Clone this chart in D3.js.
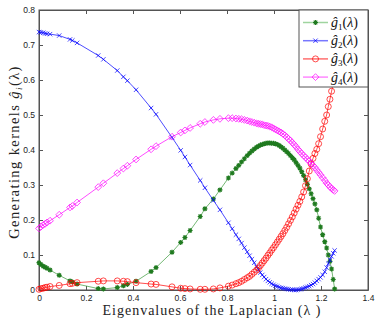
<!DOCTYPE html>
<head>
    <title>Generating kernels vs Laplacian eigenvalues</title>
</head>
<meta charset="utf-8">
<script src="https://d3js.org/d3.v7.min.js"></script>
<style>
  body { margin: 0; background: #fff; }
</style>
<body>
<div id="my_dataviz"></div>
<script>

// eigenvalues (x positions of the markers), shared by all four kernels
var lambdas = [0, 0.008, 0.018, 0.026, 0.034, 0.047, 0.086, 0.132, 0.142, 0.162,
  0.252, 0.274, 0.333, 0.359, 0.376, 0.413, 0.477, 0.498, 0.566, 0.603,
  0.621, 0.643, 0.686, 0.706, 0.742, 0.770, 0.806, 0.822, 0.838, 0.850,
  0.862, 0.874, 0.886, 0.896, 0.906, 0.916, 0.926, 0.934, 0.942, 0.950,
  0.958, 0.966, 0.974, 0.982, 0.990, 0.998, 1.006, 1.014, 1.022, 1.030,
  1.038, 1.046, 1.054, 1.062, 1.070, 1.078, 1.086, 1.094, 1.102, 1.110,
  1.118, 1.126, 1.134, 1.142, 1.150, 1.158, 1.166, 1.174, 1.182, 1.190,
  1.198, 1.207, 1.216, 1.224, 1.231, 1.238, 1.245, 1.252, 1.258]

var g1 = [0.078, 0.073, 0.068, 0.065, 0.062, 0.057, 0.042, 0.026, 0.023, 0.017,
  0.004, 0.003, 0.007, 0.012, 0.016, 0.025, 0.053, 0.064, 0.108, 0.136,
  0.150, 0.170, 0.210, 0.232, 0.260, 0.286, 0.320, 0.334, 0.347, 0.356,
  0.366, 0.375, 0.384, 0.391, 0.397, 0.403, 0.408, 0.411, 0.414, 0.416,
  0.418, 0.419, 0.420, 0.420, 0.419, 0.419, 0.418, 0.416, 0.413, 0.409,
  0.405, 0.400, 0.395, 0.390, 0.384, 0.378, 0.372, 0.364, 0.356, 0.348,
  0.338, 0.327, 0.315, 0.302, 0.289, 0.275, 0.261, 0.246, 0.229, 0.205,
  0.180, 0.158, 0.138, 0.120, 0.100, 0.082, 0.060, 0.030, 0.003]

var g2 = [0.737, 0.736, 0.735, 0.733, 0.732, 0.731, 0.727, 0.716, 0.713, 0.706,
  0.670, 0.659, 0.627, 0.609, 0.598, 0.572, 0.520, 0.502, 0.436, 0.399,
  0.380, 0.357, 0.313, 0.292, 0.256, 0.229, 0.192, 0.175, 0.158, 0.146,
  0.134, 0.121, 0.109, 0.098, 0.088, 0.078, 0.066, 0.058, 0.050, 0.043,
  0.037, 0.031, 0.026, 0.022, 0.018, 0.015, 0.012, 0.010, 0.008, 0.006,
  0.005, 0.004, 0.003, 0.002, 0.001, 0.001, 0.000, 0.000, 0.001, 0.002,
  0.003, 0.005, 0.007, 0.009, 0.011, 0.014, 0.017, 0.021, 0.026, 0.031,
  0.036, 0.043, 0.052, 0.064, 0.075, 0.086, 0.096, 0.105, 0.113]

var g3 = [0.002, 0.004, 0.005, 0.007, 0.008, 0.010, 0.013, 0.018, 0.019, 0.021,
  0.025, 0.026, 0.026, 0.025, 0.024, 0.021, 0.017, 0.016, 0.009, 0.005,
  0.004, 0.003, 0.002, 0.002, 0.003, 0.006, 0.011, 0.014, 0.018, 0.021,
  0.025, 0.030, 0.035, 0.039, 0.045, 0.051, 0.057, 0.063, 0.070, 0.077,
  0.084, 0.091, 0.099, 0.106, 0.114, 0.121, 0.129, 0.137, 0.145, 0.153,
  0.161, 0.170, 0.179, 0.189, 0.199, 0.209, 0.220, 0.231, 0.242, 0.253,
  0.266, 0.280, 0.298, 0.318, 0.340, 0.360, 0.376, 0.390, 0.402, 0.418,
  0.438, 0.460, 0.482, 0.500, 0.524, 0.545, 0.568, 0.590, 0.610]

var g4 = [0.176, 0.181, 0.186, 0.189, 0.193, 0.198, 0.215, 0.236, 0.240, 0.250,
  0.294, 0.305, 0.334, 0.347, 0.355, 0.373, 0.402, 0.411, 0.438, 0.450,
  0.456, 0.463, 0.475, 0.480, 0.486, 0.489, 0.491, 0.491, 0.490, 0.489,
  0.488, 0.486, 0.484, 0.482, 0.480, 0.478, 0.476, 0.475, 0.474, 0.473,
  0.471, 0.470, 0.469, 0.467, 0.465, 0.462, 0.459, 0.456, 0.453, 0.450,
  0.446, 0.442, 0.437, 0.432, 0.427, 0.421, 0.415, 0.409, 0.402, 0.396,
  0.390, 0.384, 0.379, 0.373, 0.368, 0.362, 0.356, 0.350, 0.343, 0.336,
  0.329, 0.321, 0.313, 0.305, 0.300, 0.295, 0.290, 0.286, 0.283]

var seriesNames = ["1", "2", "3", "4"]
var xTicks = [0, 0.2, 0.4, 0.6, 0.8, 1, 1.2, 1.4]
var xTickLabels = ["0", "0.2", "0.4", "0.6", "0.8", "1", "1.2", "1.4"]
var yTicks = [0, 0.1, 0.2, 0.3, 0.4, 0.5, 0.6, 0.7, 0.8]
var yTickLabels = ["0", "0.1", "0.2", "0.3", "0.4", "0.5", "0.6", "0.7", "0.8"]

var margin = {top: 10, right: 14, bottom: 35, left: 39},
    width = 382 - margin.left - margin.right,
    height = 325 - margin.top - margin.bottom;

var svg = d3.select("#my_dataviz")
  .append("svg")
    .attr("width", 382)
    .attr("height", 325)
  .append("g")
    .attr("transform", "translate(" + margin.left + "," + margin.top + ")");

var x = d3.scaleLinear().domain([0, 1.4]).range([0, width])
var y = d3.scaleLinear().domain([0, 0.8]).range([height, 0])

var series = [
  {name: seriesNames[0], values: g1, line: "#3a9a3a", mark: "#1f7a1f", legendLine: "#9fd49f", shape: "star"},
  {name: seriesNames[1], values: g2, line: "#0000ff", mark: "#0000ff", legendLine: "#7777ff", shape: "x"},
  {name: seriesNames[2], values: g3, line: "#ff0000", mark: "#ff0000", legendLine: "#ff7070", shape: "circle"},
  {name: seriesNames[3], values: g4, line: "#ff00ff", mark: "#ff00ff", legendLine: "#ff88ff", shape: "diamond"}
]

function markerPath(shape) {
  if (shape == "star") return "M-2.5,0H2.5M0,-2.5V2.5M-1.8,-1.8L1.8,1.8M-1.8,1.8L1.8,-1.8"
  if (shape == "x") return "M-2.2,-2.2L2.2,2.2M-2.2,2.2L2.2,-2.2"
  if (shape == "circle") return "M3,0A3,3 0 1,1 -3,0A3,3 0 1,1 3,0Z"
  return "M0,-3.4L3.4,0L0,3.4L-3.4,0Z"
}

// axes: ticks point inward on all four sides (matlab box)
var axisColor = "#555"
var xAxis = svg.append("g")
  .attr("transform", "translate(0," + height + ")")
  .call(d3.axisBottom(x).tickValues(xTicks).tickSize(-4).tickSizeOuter(0).tickPadding(5)
        .tickFormat(function(d, i) { return xTickLabels[i] }))
svg.append("g")
  .call(d3.axisTop(x).tickValues(xTicks).tickSize(-4).tickSizeOuter(0).tickFormat(""))
var yAxis = svg.append("g")
  .call(d3.axisLeft(y).tickValues(yTicks).tickSize(-4).tickSizeOuter(0).tickPadding(4)
        .tickFormat(function(d, i) { return yTickLabels[i] }))
svg.append("g")
  .attr("transform", "translate(" + width + ",0)")
  .call(d3.axisRight(y).tickValues(yTicks).tickSize(-4).tickSizeOuter(0).tickFormat(""))

svg.selectAll(".domain").attr("stroke", axisColor)
svg.selectAll(".tick line").attr("stroke", axisColor)
svg.selectAll(".tick text")
  .style("font-family", "'Liberation Sans', Arial, sans-serif")
  .style("font-size", "8.5px")
  .attr("fill", "#222")

svg.append("rect")
  .attr("width", width).attr("height", height)
  .attr("fill", "none").attr("stroke", axisColor).attr("stroke-width", 1)

var line = d3.line()
  .x(function(d) { return x(d[0]) })
  .y(function(d) { return y(d[1]) })

series.forEach(function(s) {
  var pts = lambdas.map(function(l, i) { return [l, s.values[i]] })
  svg.append("path")
    .datum(pts)
    .attr("d", line)
    .attr("fill", "none")
    .attr("stroke", s.line)
    .attr("stroke-width", 0.7)
  svg.selectAll(null)
    .data(pts)
    .enter()
    .append("path")
      .attr("transform", function(d) { return "translate(" + x(d[0]) + "," + y(d[1]) + ")" })
      .attr("d", markerPath(s.shape))
      .attr("fill", "none")
      .attr("stroke", s.mark)
      .attr("stroke-width", s.shape == "star" ? 1.2 : 0.7)
})

// legend in the top right corner
var lg = svg.append("g").attr("transform", "translate(" + (width - 69) + ",0)")
lg.append("rect")
  .attr("width", 69).attr("height", 77)
  .attr("fill", "#fff").attr("stroke", axisColor).attr("stroke-width", 1)
series.forEach(function(s, i) {
  var ry = 12.5 + i * 18.2
  lg.append("line")
    .attr("x1", 4).attr("x2", 29).attr("y1", ry).attr("y2", ry)
    .attr("stroke", s.legendLine).attr("stroke-width", 1.5)
  lg.append("path")
    .attr("transform", "translate(16.5," + ry + ")")
    .attr("d", markerPath(s.shape))
    .attr("fill", "none").attr("stroke", s.mark)
    .attr("stroke-width", s.shape == "star" ? 1.2 : 0.7)
  var t = lg.append("text")
    .attr("x", 32).attr("y", ry + 4.5)
    .style("font-family", "'Liberation Serif', 'DejaVu Serif', serif")
    .style("font-size", "14px")
    .attr("fill", "#111")
  t.append("tspan").style("font-style", "italic").text("\u011D")
  t.append("tspan").attr("dy", 3).style("font-size", "9px").text(s.name)
  t.append("tspan").attr("dy", -3).text("(")
  t.append("tspan").style("font-style", "italic").text("\u03BB")
  t.append("tspan").text(")")
})

// axis titles
svg.append("text")
  .attr("x", width / 2 + 8).attr("y", height + 25)
  .attr("text-anchor", "middle")
  .attr("textLength", 218).attr("lengthAdjust", "spacing")
  .style("font-family", "'Liberation Serif', 'DejaVu Serif', serif")
  .style("font-size", "14px")
  .attr("fill", "#222")
  .text("Eigenvalues of the Laplacian (\u03BB )")

var yl = svg.append("text")
  .attr("transform", "translate(-20," + 142 + ") rotate(-90)")
  .attr("text-anchor", "middle")
  .style("font-family", "'Liberation Serif', 'DejaVu Serif', serif")
  .style("font-size", "14.5px")
  .style("letter-spacing", "1.4px")
  .attr("fill", "#222")
yl.append("tspan").text("Generating kernels ")
yl.append("tspan").style("font-style", "italic").text("\u011D")
yl.append("tspan").attr("dy", 3).style("font-size", "9px").style("font-style", "italic").text("i")
yl.append("tspan").attr("dy", -3).text("(\u03BB)")

</script>
</body>
